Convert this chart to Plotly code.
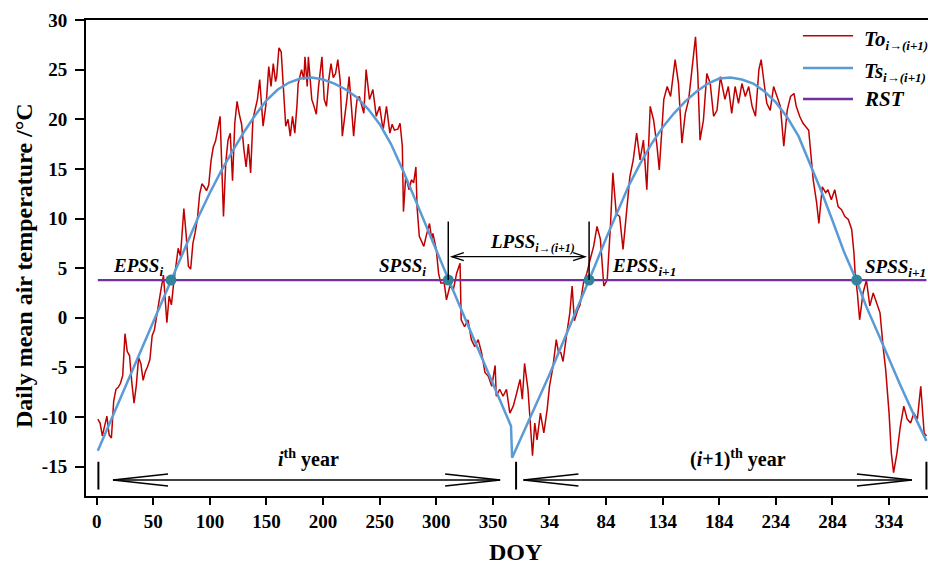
import plotly.graph_objects as go

# ---------------- data ----------------
# Observed daily mean air temperature To (x = day index over two years)
to_day = [1, 3, 5, 7, 9, 11, 13, 15, 17, 19, 21, 23, 25, 27, 29, 31, 33, 35, 37, 39,
          41, 43, 45, 47, 49, 51, 53, 55, 57, 59, 61, 62, 64, 66, 68, 70, 72, 74, 77, 79,
          81, 83, 85, 87, 89, 91, 93, 95, 97, 99, 101, 103, 105, 107, 109, 110, 112, 114, 116, 118,
          120, 122, 124, 126, 128, 130, 132, 134, 136, 138, 140, 142, 144, 146, 147, 149, 150, 152, 154, 156,
          158, 159, 161, 163, 165, 167, 169, 171, 173, 175, 177, 178, 181, 183, 184, 186, 187, 190, 192, 194,
          196, 199, 201, 203, 205, 207, 209, 211, 213, 215, 217, 219, 221, 223, 225, 227, 229, 230, 232, 234,
          236, 238, 240, 241, 244, 247, 250, 253, 256, 259, 261, 263, 266, 268, 270, 271, 273, 276, 278, 280,
          282, 283, 285, 287, 289, 291, 294, 296, 297, 300, 302, 304, 307, 309, 312, 315, 318, 321, 322, 325,
          328, 331, 334, 337, 340, 343, 346, 349, 352, 353, 356, 359, 362, 365,
          368, 371, 374, 376, 378, 381, 383, 385, 387, 389, 392, 395, 397, 398, 400, 403, 406, 408, 410, 412,
          415, 418, 420, 422, 425, 427, 430, 433, 436, 439, 442, 445, 448, 451, 454, 456, 459, 462, 465, 468,
          471, 474, 477, 480, 483, 486, 489, 492, 495, 497, 501, 504, 507, 511, 514, 517, 520, 523, 526, 529,
          531, 533, 536, 539, 542, 545, 548, 551, 555, 558, 561, 564, 567, 570, 573, 576, 579, 582, 585, 587,
          590, 592, 595, 598, 601, 604, 607, 610, 613, 616, 618, 621, 624, 629, 633, 636, 638, 641, 644, 646,
          649, 652, 655, 658, 661, 664, 667, 669, 670, 672, 674, 677, 680, 683, 686, 689, 692, 695, 697, 700,
          702, 704, 707, 710, 713, 716, 719, 722, 725, 728, 729, 731, 733]
to_val = [-10.2, -10.6, -11.9, -10.8, -9.9, -11.8, -12.1, -8.4, -7.2, -7.0, -6.6, -5.8, -1.6, -3.4, -3.8, -6.5, -8.6, -6.8, -4.0, -4.6,
          -6.3, -5.4, -4.9, -4.2, -1.8, -1.2, 0.3, 1.5, 3.0, 4.3, 1.0, -0.5, 2.2, 1.3, 3.5, 5.5, 7.0, 6.2, 11.0, 8.4,
          5.2, 4.9, 7.5, 8.6, 10.0, 12.5, 13.5, 13.2, 12.8, 13.4, 15.8, 17.2, 17.8, 19.0, 20.3, 17.0, 10.2, 15.6, 17.9, 18.6,
          13.8, 19.6, 21.8, 20.5, 19.5, 17.0, 15.2, 17.5, 14.6, 20.0, 21.2, 22.0, 24.0, 21.0, 19.3, 21.0, 22.0, 25.3, 23.3, 25.6,
          23.8, 24.3, 27.2, 26.8, 23.0, 19.3, 20.0, 18.3, 20.3, 18.6, 21.5, 23.6, 25.0, 24.0, 26.3, 23.3, 26.3, 22.0, 21.3, 20.5,
          23.3, 26.3, 22.0, 21.3, 24.0, 25.6, 24.2, 24.6, 26.0, 24.0, 18.3, 20.0, 22.0, 24.3, 21.5, 18.3, 21.0, 22.0, 22.3, 21.5,
          20.6, 25.0, 23.0, 22.0, 23.0, 20.3, 21.3, 18.9, 21.3, 18.6, 19.5, 18.9, 19.0, 19.6, 17.3, 10.7, 14.2, 12.9, 13.9, 13.6,
          15.2, 11.2, 8.2, 7.6, 7.2, 8.2, 9.5, 7.9, 8.5, 6.9, 4.5, 3.5, 3.5, 1.8, 3.2, 2.8, 4.5, 5.5, -0.2, -0.9,
          -0.2, -2.2, -2.9, -2.2, -3.5, -5.5, -5.9, -6.9, -4.8, -7.9, -7.2, -7.9, -7.2, -9.6,
          -8.9, -7.6, -6.2, -8.2, -4.6, -7.2, -10.2, -13.9, -10.6, -12.3, -9.6, -11.6, -10.0, -9.2, -6.9, -5.0, -2.2, -3.5, -3.5, -4.4,
          -1.8, 0.5, 3.2, -0.3, 0.8, 1.3, 3.5, 4.5, 5.9, 7.2, 9.2, 7.9, 3.2, 3.8, 9.5, 14.6, 10.5, 10.2, 6.9, 10.9,
          14.2, 15.9, 18.6, 15.9, 17.9, 12.9, 21.3, 19.9, 17.3, 14.9, 22.0, 23.3, 22.3, 26.0, 23.6, 17.6, 20.6, 22.0, 25.0, 28.3,
          24.6, 17.9, 19.9, 24.6, 23.6, 20.3, 20.9, 24.3, 22.0, 23.3, 20.6, 23.3, 21.6, 23.6, 22.3, 23.3, 21.3, 20.3, 25.0, 26.0,
          23.3, 21.6, 20.9, 23.3, 22.3, 21.3, 17.3, 20.9, 22.3, 22.6, 21.3, 20.3, 19.6, 18.9, 13.9, 11.6, 9.5, 13.2, 12.6, 12.9,
          11.9, 12.9, 11.2, 10.9, 10.2, 9.9, 8.9, 6.5, 4.5, 2.5, -0.2, 2.5, 3.8, 1.2, 2.5, 1.5, 0.5, -3.2, -5.2, -9.6,
          -13.6, -15.6, -13.6, -10.9, -8.9, -10.2, -10.6, -9.6, -10.2, -6.9, -8.6, -11.6, -11.9]

# Simulated temperature Ts
ts_day = [1, 10, 20, 30, 40, 50, 60, 66, 70, 80, 90, 100, 110, 120, 130, 140, 150, 160, 170, 180,
          190, 200, 210, 220, 230, 240, 250, 260, 270, 280, 290, 300, 311, 320, 330, 340, 350, 360, 366,
          367, 380, 390, 400, 410, 420, 430, 435, 440, 450, 460, 470, 480, 490, 500, 510, 520, 530, 540, 550,
          560, 570, 580, 590, 600, 610, 620, 630, 640, 650, 660, 671, 680, 690, 700, 710, 720, 733]
ts_val = [-13.4, -11.0, -8.4, -5.7, -3.0, -0.4, 2.3, 3.8, 4.9, 7.6, 10.2, 12.6, 14.8, 16.8, 18.7, 20.4, 21.9, 23.0, 23.7, 24.1,
          24.2, 24.0, 23.6, 23.0, 22.2, 21.0, 19.5, 17.5, 15.0, 12.3, 9.5, 6.7, 3.8, 1.4, -1.3, -4.0, -6.6, -9.3, -10.9,
          -14.1, -10.8, -8.3, -5.7, -3.0, -0.3, 2.4, 3.8, 5.2, 8.0, 10.7, 13.3, 15.5, 17.5, 19.2, 20.6, 21.8, 22.8, 23.6, 24.1,
          24.2, 24.0, 23.6, 22.8, 21.7, 20.2, 18.3, 15.6, 12.8, 9.8, 6.7, 3.8, 1.1, -1.5, -4.2, -6.8, -9.3, -12.4]

# Reference threshold temperature RST
rst_day = [1, 733]
rst_val = [3.8, 3.8]

# Key dates where Ts crosses RST
key_day = [65.6, 310.6, 435.0, 671.4]
key_val = [3.8, 3.8, 3.8, 3.8]

x_tickvals = [0, 50, 100, 150, 200, 250, 300, 350, 400, 450, 500, 550, 600, 650, 700]
x_ticktext = ['0', '50', '100', '150', '200', '250', '300', '350',
              '34', '84', '134', '184', '234', '284', '334']
y_tickvals = [-15, -10, -5, 0, 5, 10, 15, 20, 25, 30]
y_ticktext = ['-15', '-10', '-5', '0', '5', '10', '15', '20', '25', '30']

# ---------------- layout helpers ----------------
W, H = 928, 566
ML, MR, MT, MB = 86, 0, 20, 70
X0, X1 = -9.45, 734.4
Y0, Y1 = -17.95, 30.0
PW, PH = W - ML - MR, H - MT - MB
DX = (X1 - X0) / PW      # data units per pixel
DY = (Y1 - Y0) / PH

FONT = 'Liberation Serif'
RED = '#C00000'
BLUE = '#5B9BD5'
PURPLE = '#7030A0'
TEAL = '#31849B'


def px_x(px):
    return (px - ML) / PW


def px_y(py):
    return (H - MB - py) / PH


fig = go.Figure()
fig.add_trace(go.Scatter(x=to_day, y=to_val, mode='lines', name='To',
                         line=dict(color=RED, width=1.5), showlegend=False))
fig.add_trace(go.Scatter(x=ts_day, y=ts_val, mode='lines', name='Ts',
                         line=dict(color=BLUE, width=2.5), showlegend=False))
fig.add_trace(go.Scatter(x=rst_day, y=rst_val, mode='lines', name='RST',
                         line=dict(color=PURPLE, width=2.4), showlegend=False))
fig.add_trace(go.Scatter(x=key_day, y=key_val, mode='markers', showlegend=False,
                         marker=dict(color=TEAL, size=11, line=dict(width=0))))

shapes = []


def seg(x0, y0, x1, y1, w=1.5, color='black', xref='x', yref='y'):
    shapes.append(dict(type='line', x0=x0, y0=y0, x1=x1, y1=y1, xref=xref, yref=yref,
                       line=dict(color=color, width=w)))


def chevron(tip, y, direction, length_px, half_px, w=1.6):
    L = direction * length_px * DX
    h = half_px * DY
    shapes.append(dict(type='path', xref='x', yref='y',
                       path=f'M {tip + L},{y + h} L {tip},{y} L {tip + L},{y - h}',
                       line=dict(color='black', width=w)))


# year span arrows
ARR_Y = -16.34
seg(14.4, ARR_Y, 356.4, ARR_Y, w=1.3)
chevron(14.4, ARR_Y, 1, 55, 6)
chevron(356.4, ARR_Y, -1, 55, 6)
seg(377.0, ARR_Y, 720.2, ARR_Y, w=1.3)
chevron(377.0, ARR_Y, 1, 55, 6)
chevron(720.2, ARR_Y, -1, 55, 6)
for xb in [1.5, 370.5, 733.0]:
    seg(xb, -14.5, xb, -17.3, w=2)

# LPSS arrow and markers
LP_Y = 6.16
seg(313.7, LP_Y, 431.5, LP_Y, w=1.2)
chevron(313.7, LP_Y, 1, 12, 4, w=1.2)
chevron(431.5, LP_Y, -1, 12, 4, w=1.2)
seg(key_day[1], 3.8, key_day[1], 9.7, w=1.5)
seg(key_day[2], 3.8, key_day[2], 9.7, w=1.5)

# manual legend
leg_rows = [(35.7, RED, 1.5, '<b><i>To</i></b>'),
            (68.0, BLUE, 2.5, '<b><i>Ts</i></b>'),
            (99.0, PURPLE, 2.4, '<b><i>RST</i></b>')]
annotations = []
SUBLEG = '<sub><span style="font-size:13px"><b><i>i→(i+1)</i></b></span></sub>'
for i, (py, col, w, txt) in enumerate(leg_rows):
    seg(px_x(803), px_y(py), px_x(853), px_y(py), w=w, color=col, xref='paper', yref='paper')
    label = txt + (SUBLEG if i < 2 else '')
    annotations.append(dict(x=px_x(862), y=px_y(py + (4 if i < 2 else 0)), xref='paper', yref='paper',
                            text=label, showarrow=False, xanchor='left', yanchor='middle',
                            font=dict(family=FONT, size=21, color='black')))


def txt(x, y, text, xanchor='center', size=19, yanchor='middle'):
    annotations.append(dict(x=x, y=y, xref='x', yref='y', text=text, showarrow=False,
                            xanchor=xanchor, yanchor=yanchor,
                            font=dict(family=FONT, size=size, color='black')))


txt(60.5, 5.1, '<b><i>EPSS<sub>i</sub></i></b>', xanchor='right')
txt(293.0, 5.1, '<b><i>SPSS<sub>i</sub></i></b>', xanchor='right')
txt(453.5, 5.1, '<b><i>EPSS<sub>i+1</sub></i></b>', xanchor='left')
txt(677.4, 5.0, '<b><i>SPSS<sub>i+1</sub></i></b>', xanchor='left')
txt(346.0, 7.5, '<b><i>LPSS</i></b><sub><span style="font-size:12px"><b><i>i→(i+1)</i></b></span></sub>',
    xanchor='left')
txt(186.7, -14.2, '<b><i>i</i><sup>th</sup> year</b>', size=20)
txt(566.7, -14.2, '<b>(<i>i</i>+1)<sup>th</sup> year</b>', size=20)

# axis titles
annotations.append(dict(x=px_x(23.5), y=px_y(265.5), xref='paper', yref='paper', textangle=-90,
                        xanchor='center', yanchor='middle',
                        text='<b>Daily mean air temperature /°C</b>', showarrow=False,
                        font=dict(family=FONT, size=24, color='black')))
annotations.append(dict(x=px_x(515), y=px_y(552), xref='paper', yref='paper',
                        xanchor='center', yanchor='middle',
                        text='<b>DOY</b>', showarrow=False,
                        font=dict(family=FONT, size=24, color='black')))

fig.update_layout(
    width=W, height=H,
    margin=dict(l=ML, r=MR, t=MT, b=MB, pad=0),
    paper_bgcolor='white', plot_bgcolor='white',
    shapes=shapes, annotations=annotations,
    xaxis=dict(range=[X0, X1], showline=True, linewidth=2, linecolor='black', mirror=True,
               ticks='outside', ticklen=7, tickwidth=1.5, tickcolor='black',
               tickvals=x_tickvals, ticktext=x_ticktext, showgrid=False, zeroline=False,
               tickfont=dict(family=FONT, size=19, color='black', weight='bold')),
    yaxis=dict(range=[Y0, Y1], showline=True, linewidth=2, linecolor='black',
               ticks='outside', ticklen=9, tickwidth=1.5, tickcolor='black',
               tickvals=y_tickvals, ticktext=y_ticktext, showgrid=False, zeroline=False,
               ticklabelstandoff=4,
               tickfont=dict(family=FONT, size=19, color='black', weight='bold')),
)

fig.write_html('out.html', config={'displayModeBar': False},
               post_script="document.body.style.margin='0';document.body.style.overflow='hidden';")
